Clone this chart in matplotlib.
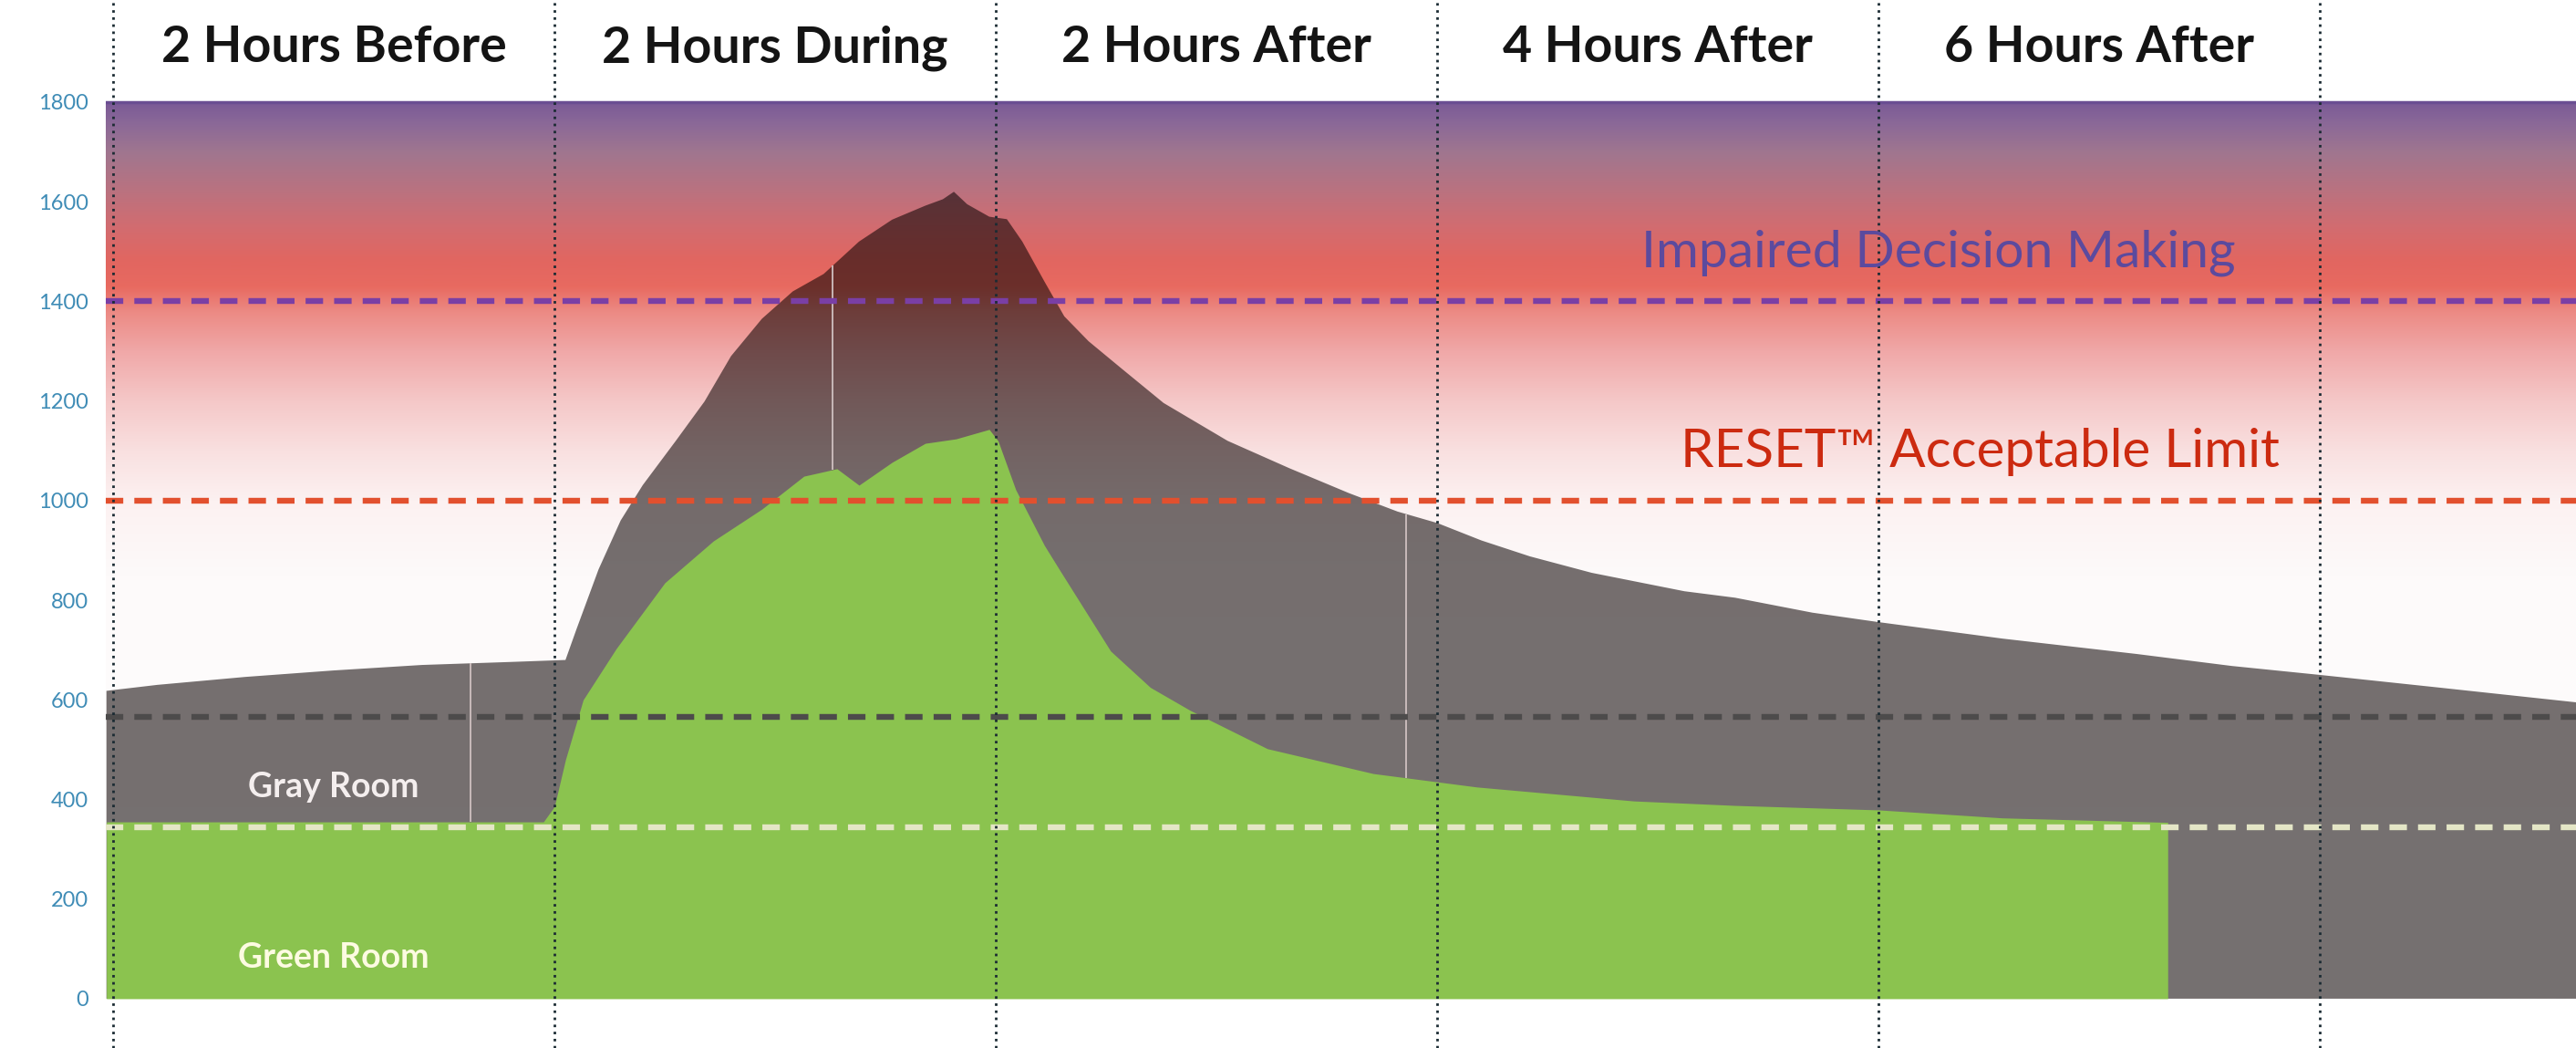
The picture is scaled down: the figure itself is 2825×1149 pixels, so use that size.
import numpy as np
import matplotlib.pyplot as plt
from matplotlib.colors import to_rgb

# hours relative to the start of the occupied period, CO2 in ppm
gray_hours = [-2.03, -1.8, -1.4, -1.0, -0.6, -0.2, 0.05, 0.10, 0.20, 0.30, 0.40, 0.55,
              0.68, 0.80, 0.94, 1.08, 1.22, 1.38, 1.53, 1.68, 1.76, 1.81, 1.87, 1.97,
              2.05, 2.12, 2.22, 2.31, 2.42, 2.57, 2.76, 3.05, 3.33, 3.60, 3.82, 4.0,
              4.20, 4.42, 4.70, 5.12, 5.35, 5.70, 6.0, 6.56, 7.17, 7.60, 8.0, 8.51, 9.16]
gray_ppm = [618, 630, 646, 659, 670, 676, 680, 742, 862, 960, 1031, 1120,
            1199, 1290, 1365, 1420, 1455, 1520, 1564, 1592, 1605, 1620, 1595, 1570,
            1565, 1520, 1440, 1370, 1320, 1265, 1196, 1120, 1065, 1015, 978, 955,
            920, 888, 855, 818, 805, 775, 756, 723, 692, 668, 650, 626, 595]

green_hours = [-2.03, -0.05, 0.0, 0.05, 0.13, 0.28, 0.50, 0.72, 0.94, 1.13, 1.28, 1.38,
               1.53, 1.68, 1.82, 1.97, 2.01, 2.09, 2.22, 2.29, 2.52, 2.70, 2.88, 3.23,
               3.71, 4.18, 4.89, 5.35, 6.0, 6.56, 7.31]
green_ppm = [355, 355, 386, 480, 600, 703, 835, 919, 983, 1049, 1064, 1031,
             1077, 1115, 1124, 1143, 1120, 1022, 910, 860, 698, 625, 579, 502,
             452, 425, 397, 388, 379, 363, 354]

# short dropouts in the gray room logger
gap_hours = [-0.38, 1.26, 3.86]

period_edges = [-2, 0, 2, 4, 6, 8]
period_centers = [-1, 1, 3, 5, 7]
period_labels = ["2 Hours Before", "2 Hours During", "2 Hours After",
                 "4 Hours After", "6 Hours After"]

limit_levels = [1400, 1000, 566, 345]
limit_colors = ["#7a3fa5", "#e2502e", "#4d4b4b", "#e4e6c6"]

yticks = list(range(0, 1801, 200))

# background band, ppm level -> colour
bg_levels = [0, 850, 1000, 1100, 1200, 1300, 1380, 1430, 1480, 1550, 1620, 1700, 1760, 1800]
bg_colors = ["#ffffff", "#fdfafa", "#fcf1f1", "#f9e0e0", "#f5c8c8", "#f0a8a8", "#ec8a84",
             "#e86a60", "#e26660", "#d26c70", "#bb727f", "#a0768f", "#8a6898", "#7a5a96"]

gray_col = "#767171"
green_col = "#8bc34f"

x0, x1 = -2.033, 9.16
y0, y1 = -99, 2005

fig = plt.figure(figsize=(28.25, 11.49), dpi=100)
ax = fig.add_axes([116 / 2825, 0, 1 - 116 / 2825, 1])

levels = np.linspace(0, 1800, 900)
rgbs = np.array([to_rgb(c) for c in bg_colors])
grad = np.stack([np.interp(levels, bg_levels, rgbs[:, i]) for i in range(3)], axis=1)
img = grad[:, None, :]
ax.imshow(img, extent=[x0, x1, 0, 1800], origin="lower", aspect="auto",
          interpolation="bilinear", zorder=0)

# gray room area is the background multiplied with gray
gray_poly = ax.fill(np.r_[gray_hours[0], gray_hours, gray_hours[-1]],
                    np.r_[0, gray_ppm, 0], facecolor="none", edgecolor="none")[0]
shade = ax.imshow(img * np.array(to_rgb(gray_col)), extent=[x0, x1, 0, 1800],
                  origin="lower", aspect="auto", interpolation="bilinear", zorder=1)
shade.set_clip_path(gray_poly)

ax.vlines(gap_hours, np.interp(gap_hours, green_hours, green_ppm),
          np.interp(gap_hours, gray_hours, gray_ppm), color="#cfc0c0", lw=1.3, zorder=1.5)

ax.fill_between(green_hours, 0, green_ppm, color=green_col, lw=0, zorder=2)

ax.axhline(1800, color="#6a4e92", lw=2.5, zorder=2)
for lvl, col in zip(limit_levels, limit_colors):
    ax.axhline(lvl, color=col, lw=4.6, dashes=(3.0, 1.9), zorder=3)

for e in period_edges:
    ax.axvline(e, color="#1b2b33", lw=2.0, ls=(0, (1, 1.8)), zorder=4)

fam = ["Lato", "DejaVu Sans"]
for c, lab in zip(period_centers, period_labels):
    ax.text(c, 1880, lab, ha="center", va="baseline", fontsize=40,
            fontweight="bold", color="#141414", family=fam)

ax.text(6.27, 1470, "Impaired Decision Making", ha="center", va="baseline",
        fontsize=41, color="#5b4a9e", family=fam, zorder=5)
ax.text(6.46, 1068, "RESET\u2122 Acceptable Limit", ha="center", va="baseline",
        fontsize=42, color="#cc2a10", family=fam, zorder=5)
ax.text(-1.0, 405, "Gray Room", ha="center", va="baseline", fontsize=27,
        fontweight="bold", color="#f4eeee", family=fam, zorder=5)
ax.text(-1.0, 63, "Green Room", ha="center", va="baseline", fontsize=27,
        fontweight="bold", color="#fdfbe2", family=fam, zorder=5)

ax.set_xlim(x0, x1)
ax.set_ylim(y0, y1)
ax.set_xticks([])
ax.set_yticks(yticks)
ax.set_yticklabels([str(t) for t in yticks], fontsize=17, color="#3f8cb6", family=fam)
ax.tick_params(axis="y", length=0, pad=14)
for s in ax.spines.values():
    s.set_visible(False)

fig.savefig("out.png", dpi=100)
